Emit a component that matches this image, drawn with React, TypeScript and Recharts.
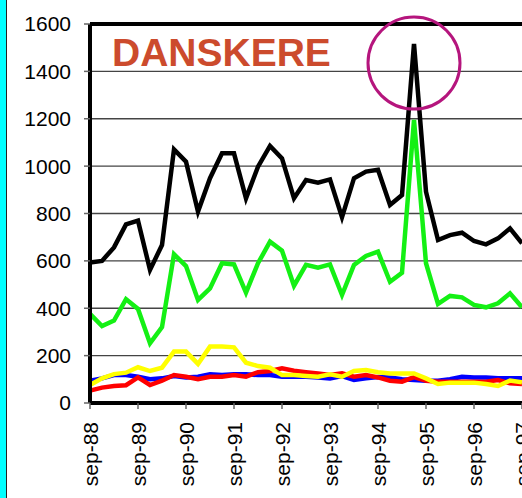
import { LineChart, Line, XAxis, YAxis, CartesianGrid, ReferenceLine, ReferenceDot } from 'recharts';

// kvartaler sep-88 .. sep-97
const quarters = [
  'sep-88', 'dec-88', 'mar-89', 'jun-89',
  'sep-89', 'dec-89', 'mar-90', 'jun-90',
  'sep-90', 'dec-90', 'mar-91', 'jun-91',
  'sep-91', 'dec-91', 'mar-92', 'jun-92',
  'sep-92', 'dec-92', 'mar-93', 'jun-93',
  'sep-93', 'dec-93', 'mar-94', 'jun-94',
  'sep-94', 'dec-94', 'mar-95', 'jun-95',
  'sep-95', 'dec-95', 'mar-96', 'jun-96',
  'sep-96', 'dec-96', 'mar-97', 'jun-97',
  'sep-97',
];

const black = [
  593, 600, 657, 754, 770, 562, 667, 1071, 1019, 808, 949, 1054, 1054,
  864, 998, 1085, 1033, 864, 941, 930, 944, 784, 949, 977, 985,
  836, 878, 1516, 892, 688, 709, 719, 684, 670, 695, 737, 674,
];
const green = [
  376, 325, 348, 438, 397, 252, 320, 628, 578, 435, 484, 590, 585,
  466, 590, 681, 643, 495, 583, 571, 585, 456, 583, 621, 639,
  512, 550, 1195, 590, 418, 452, 446, 414, 404, 421, 463, 404,
];
const yellow = [
  76, 104, 122, 128, 151, 135, 149, 217, 217, 165, 238, 238, 235,
  170, 156, 149, 118, 118, 114, 111, 121, 111, 135, 139, 130,
  125, 125, 125, 104, 80, 86, 86, 86, 80, 72, 95, 87,
];
const red = [
  52, 65, 72, 75, 108, 76, 94, 118, 111, 100, 111, 111, 118,
  111, 130, 135, 146, 136, 130, 125, 118, 125, 111, 118, 108,
  94, 90, 109, 94, 90, 90, 90, 90, 90, 97, 83, 80,
];
const blue = [
  94, 104, 118, 118, 111, 100, 104, 114, 108, 111, 121, 118, 121,
  121, 118, 118, 111, 111, 111, 108, 104, 114, 97, 104, 110,
  108, 100, 97, 94, 94, 100, 111, 108, 108, 104, 104, 104,
];
const yTicks = [0, 200, 400, 600, 800, 1000, 1200, 1400, 1600];

const data = quarters.map((q, i) => ({
  q,
  black: black[i],
  green: green[i],
  yellow: yellow[i],
  red: red[i],
  blue: blue[i],
}));

const XTick = ({ x, y, payload }: any) => (
  <g transform={`translate(${x},${y})`}>
    <text transform="rotate(-90)" x={-11} dy="0.36em" textAnchor="end" fontSize={21} fill="#000">
      {payload.value}
    </text>
  </g>
);

export default function App() {
  return (
    <div
      style={{
        position: 'absolute',
        left: 0,
        top: 0,
        width: 522,
        height: 498,
        overflow: 'hidden',
        background: '#fff',
        fontFamily: "'Liberation Sans', Arial, sans-serif",
      }}
    >
      <div style={{ position: 'absolute', left: 0, top: 0, width: 6, height: 498, background: '#00ffff', borderRight: '1.5px solid #222' }} />
      <LineChart width={522} height={498} data={data} margin={{ top: 24, right: 0, left: 0, bottom: 15 }}>
        <CartesianGrid vertical={false} stroke="#444" strokeWidth={1.3} />
        <XAxis
          dataKey="q"
          interval={3}
          height={80}
          tick={<XTick />}
          tickSize={6}
          tickLine={{ stroke: '#666', strokeWidth: 1.5 }}
          axisLine={{ stroke: '#000', strokeWidth: 4 }}
        />
        <YAxis
          domain={[0, 1600]}
          ticks={yTicks}
          width={90}
          tickSize={6}
          tickMargin={13}
          tick={{ fontSize: 21, fill: '#000' }}
          tickLine={{ stroke: '#666', strokeWidth: 1.5 }}
          axisLine={{ stroke: '#000', strokeWidth: 4 }}
        />
        <ReferenceLine y={1600} stroke="#000" strokeWidth={4} />
        <Line dataKey="blue" stroke="#0000ff" strokeWidth={4.5} dot={false} isAnimationActive={false} />
        <Line dataKey="red" stroke="#ff0000" strokeWidth={4.5} dot={false} isAnimationActive={false} />
        <Line dataKey="yellow" stroke="#ffff00" strokeWidth={4.5} dot={false} isAnimationActive={false} />
        <Line dataKey="green" stroke="#14f014" strokeWidth={4.5} dot={false} isAnimationActive={false} />
        <Line dataKey="black" stroke="#000" strokeWidth={4.5} dot={false} isAnimationActive={false} />
        <ReferenceDot x="jun-95" y={1435} r={46} fill="none" stroke="#b5157d" strokeWidth={3} ifOverflow="visible" />
      </LineChart>
      <div
        style={{
          position: 'absolute',
          left: 112,
          top: 33,
          fontSize: 39,
          fontWeight: 'bold',
          lineHeight: 1,
          color: '#cc4b2d',
        }}
      >
        DANSKERE
      </div>
    </div>
  );
}
